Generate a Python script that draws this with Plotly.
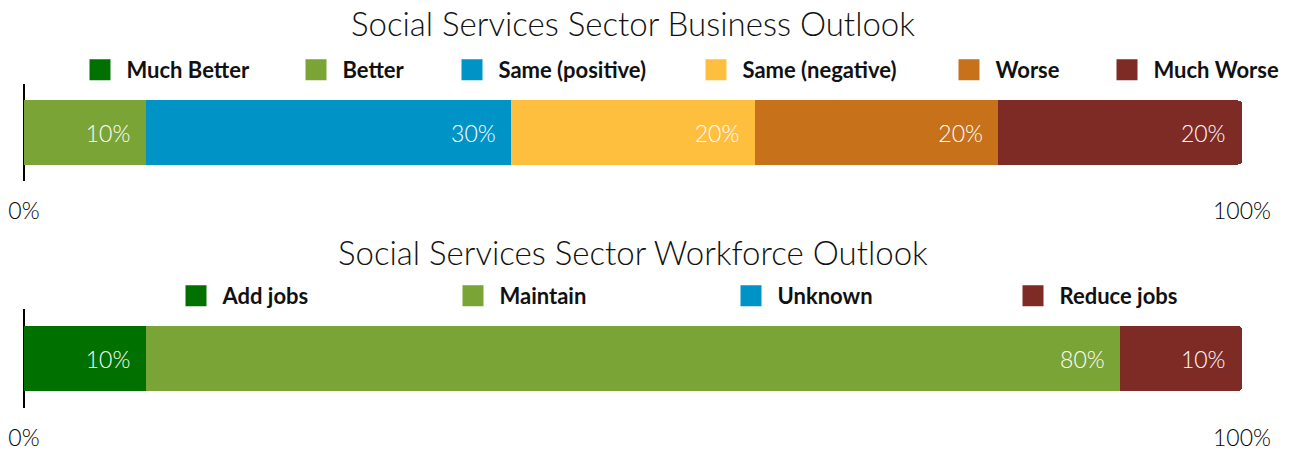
import plotly.graph_objects as go

# ---- data ----
business_categories = ["Much Better", "Better", "Same (positive)", "Same (negative)", "Worse", "Much Worse"]
business_values = [0, 10, 30, 20, 20, 20]
business_colors = ["#007000", "#7BA437", "#0093C6", "#FEBE3E", "#C8711B", "#7F2B25"]

workforce_categories = ["Add jobs", "Maintain", "Unknown", "Reduce jobs"]
workforce_values = [10, 80, 0, 10]
workforce_colors = ["#007000", "#7BA437", "#0093C6", "#7F2B25"]

titles = ["Social Services Sector Business Outlook", "Social Services Sector Workforce Outlook"]
tick_values = [0, 100]
tick_labels = ["0%", "100%"]

# ---- layout constants (pixels) ----
W, H = 1289, 451
ML, MR, MT, MB = 24, 47, 84, 43
PW = W - ML - MR
PH = H - MT - MB

def px_x(px):
    return (px - ML) / PW

def px_y(py):
    return (H - MB - py) / PH

business_legend_px = [100, 316, 472, 716, 969, 1127]
workforce_legend_px = [196, 473, 751, 1033]

fig = go.Figure()

LEGEND_FONT = dict(family="Lato", size=22, color="#111111", weight=700)
LABEL_FONT = dict(family="Lato", size=23, color="#ffffff", weight=300)

legend_layouts = {}
leg_index = 0

def add_group(cats, vals, colors, axis_suffix, legend_px, legend_py):
    global leg_index
    for c, v, col, lx in zip(cats, vals, colors, legend_px):
        leg_index += 1
        lname = "legend" if leg_index == 1 else f"legend{leg_index}"
        fig.add_trace(go.Bar(
            x=[v], y=["a"], orientation="h", name=c,
            marker=dict(color=col, line=dict(width=0)),
            text=[f"{v}%\u00a0\u00a0" if v > 0 else ""],
            textposition="inside", insidetextanchor="end",
            textfont=LABEL_FONT, textangle=0,
            xaxis="x" + axis_suffix, yaxis="y" + axis_suffix,
            showlegend=False, legendgroup=c + axis_suffix, hoverinfo="skip",
        ))
        fig.add_trace(go.Scatter(
            x=[None], y=[None], mode="markers", name=c,
            marker=dict(symbol="square", size=16, color=col, line=dict(color=col, width=5)),
            xaxis="x" + axis_suffix, yaxis="y" + axis_suffix,
            showlegend=True, legend=lname, legendgroup=c + axis_suffix, hoverinfo="skip",
        ))
        legend_layouts[lname] = dict(
            x=px_x(lx - 26.5), xanchor="left", y=px_y(legend_py), yanchor="middle",
            orientation="h", font=LEGEND_FONT, itemwidth=43,
            bgcolor="rgba(0,0,0,0)", borderwidth=0, tracegroupgap=0,
        )

add_group(business_categories, business_values, business_colors, "", business_legend_px, 70)
add_group(workforce_categories, workforce_values, workforce_colors, "2", workforce_legend_px, 296)

axis_common = dict(
    range=[0, 100], tickvals=tick_values, ticktext=tick_labels,
    showgrid=True, gridcolor="#cccccc", gridwidth=1,
    zeroline=True, zerolinecolor="#000000", zerolinewidth=2,
    showline=False, ticks="", ticklabelstandoff=14,
    tickfont=dict(family="Lato", size=23, color="#000000", weight=300),
    fixedrange=True, automargin=False,
)
yaxis_common = dict(range=[-0.5, 0.5], showticklabels=False, showgrid=False,
                    zeroline=False, showline=False, fixedrange=True, automargin=False)

top_domain = [px_y(181), 1.0]
bot_domain = [0.0, px_y(309)]

fig.update_layout(
    width=W, height=H,
    margin=dict(l=ML, r=MR, t=MT, b=MB, pad=0, autoexpand=False),
    paper_bgcolor="white", plot_bgcolor="white",
    barmode="stack", bargap=0.34, barcornerradius=4,
    xaxis=dict(axis_common, anchor="y"),
    yaxis=dict(yaxis_common, domain=top_domain, anchor="x"),
    xaxis2=dict(axis_common, anchor="y2"),
    yaxis2=dict(yaxis_common, domain=bot_domain, anchor="x2"),
    annotations=[
        dict(text=titles[0], xref="paper", yref="paper", x=0.5, y=px_y(23),
             xanchor="center", yanchor="middle", showarrow=False,
             font=dict(family="Lato", size=33, color="#111111", weight=300)),
        dict(text=titles[1], xref="paper", yref="paper", x=0.5, y=px_y(252),
             xanchor="center", yanchor="middle", showarrow=False,
             font=dict(family="Lato", size=33, color="#111111", weight=300)),
    ],
    hovermode=False,
    **legend_layouts,
)

fig.write_html(
    "out.html",
    config={"displayModeBar": False},
    post_script="document.body.style.margin='0';document.body.style.overflow='hidden';",
)
